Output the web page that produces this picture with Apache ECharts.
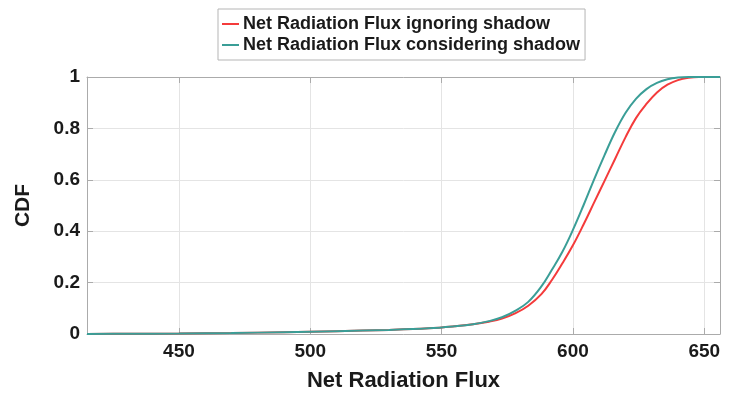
<!DOCTYPE html>
<html>
<head>
<meta charset="utf-8">
<script src="https://cdn.jsdelivr.net/npm/echarts@6/dist/echarts.min.js"></script>
<style>
  html, body { margin: 0; padding: 0; background: #fff; }
  #chart { width: 737px; height: 397px; }
</style>
</head>
<body>
<div id="chart"></div>
<script>
// Net radiation flux sample points (W/m²) and the empirical CDF of each case
const fluxValues = [415, 430, 450, 470, 490, 510, 530, 545, 555, 562, 568, 573, 578, 583, 588, 592, 596, 600, 604, 608, 612, 616, 620, 624, 628, 632, 636, 640, 644, 648, 652, 656];
const cdfIgnoringShadow = [0, 0.001, 0.002, 0.004, 0.007, 0.011, 0.016, 0.022, 0.03, 0.038, 0.048, 0.06, 0.08, 0.11, 0.155, 0.21, 0.275, 0.345, 0.425, 0.51, 0.595, 0.68, 0.765, 0.84, 0.895, 0.94, 0.97, 0.988, 0.997, 1, 1, 1];
const cdfConsideringShadow = [0, 0.001, 0.002, 0.004, 0.007, 0.011, 0.016, 0.022, 0.03, 0.038, 0.05, 0.065, 0.09, 0.125, 0.185, 0.25, 0.32, 0.405, 0.50, 0.60, 0.695, 0.785, 0.86, 0.915, 0.953, 0.977, 0.991, 0.998, 1, 1, 1, 1];
const xTicks = [450, 500, 550, 600, 650];
const seriesNames = ['Net Radiation Flux ignoring shadow', 'Net Radiation Flux considering shadow'];

const FONT = '"Liberation Sans", Arial, Helvetica, sans-serif';
const BOX = '#ababab';
const GRIDLINE = '#e4e4e4';

const pairs = (xs, ys) => xs.map((x, i) => [x, ys[i]]);

const chart = echarts.init(document.getElementById('chart'), null, { renderer: 'canvas' });
chart.setOption({
  animation: false,
  backgroundColor: '#fff',
  grid: { left: 87, right: 17, top: 77, bottom: 62, containLabel: false },
  legend: {
    orient: 'vertical',
    left: 218,
    top: 9,
    padding: [6, 5, 6, 4],
    itemGap: 3,
    itemWidth: 17,
    itemHeight: 2,
    icon: 'rect',
    backgroundColor: '#fff',
    borderColor: '#b5b5b5',
    borderWidth: 1,
    textStyle: { fontFamily: FONT, fontWeight: 'bold', fontSize: 18, color: '#1a1a1a', lineHeight: 18, padding: [0, 0, 0, -1] },
    data: seriesNames
  },
  xAxis: [
    {
      type: 'value', min: 415, max: 656, position: 'bottom',
      name: 'Net Radiation Flux', nameLocation: 'middle', nameGap: 36,
      nameTextStyle: { fontFamily: FONT, fontWeight: 'bold', fontSize: 22, color: '#1a1a1a' },
      axisLine: { show: true, onZero: false, lineStyle: { color: BOX, width: 1 } },
      axisTick: { show: true, inside: true, length: 6, customValues: xTicks, lineStyle: { color: BOX } },
      axisLabel: { customValues: xTicks, margin: 8, fontFamily: FONT, fontWeight: 'bold', fontSize: 19, color: '#1a1a1a' },
      splitLine: { show: true, lineStyle: { color: GRIDLINE, width: 1 } }
    },
    {
      type: 'value', min: 415, max: 656, position: 'top',
      axisLine: { show: true, onZero: false, lineStyle: { color: BOX, width: 1 } },
      axisTick: { show: true, inside: true, length: 6, customValues: xTicks, lineStyle: { color: BOX } },
      axisLabel: { show: false },
      splitLine: { show: false }
    }
  ],
  yAxis: [
    {
      type: 'value', min: 0, max: 1, interval: 0.2, position: 'left',
      name: 'CDF', nameLocation: 'middle', nameGap: 53,
      nameTextStyle: { fontFamily: FONT, fontWeight: 'bold', fontSize: 21, color: '#1a1a1a' },
      axisLine: { show: true, onZero: false, lineStyle: { color: BOX, width: 1 } },
      axisTick: { show: true, inside: true, length: 6, lineStyle: { color: BOX } },
      axisLabel: { margin: 7, fontFamily: FONT, fontWeight: 'bold', fontSize: 19, color: '#1a1a1a' },
      splitLine: { show: true, lineStyle: { color: GRIDLINE, width: 1 } }
    },
    {
      type: 'value', min: 0, max: 1, interval: 0.2, position: 'right',
      axisLine: { show: true, onZero: false, lineStyle: { color: BOX, width: 1 } },
      axisTick: { show: true, inside: true, length: 6, lineStyle: { color: BOX } },
      axisLabel: { show: false },
      splitLine: { show: false }
    }
  ],
  series: [
    {
      name: seriesNames[0], type: 'line', xAxisIndex: 0, yAxisIndex: 0,
      data: pairs(fluxValues, cdfIgnoringShadow),
      smooth: 0.4, symbol: 'none', showSymbol: false,
      itemStyle: { color: '#f43b3b' },
      lineStyle: { color: '#f43b3b', width: 2 }, z: 2
    },
    {
      name: seriesNames[1], type: 'line', xAxisIndex: 0, yAxisIndex: 0,
      data: pairs(fluxValues, cdfConsideringShadow),
      smooth: 0.4, symbol: 'none', showSymbol: false,
      itemStyle: { color: '#3a9e97' },
      lineStyle: { color: '#3a9e97', width: 2 }, z: 3
    }
  ]
});
</script>
</body>
</html>
